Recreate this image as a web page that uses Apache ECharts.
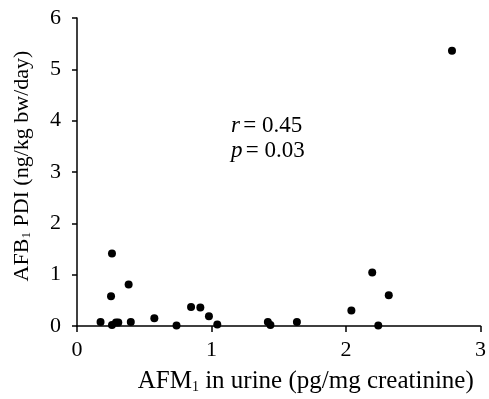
<!DOCTYPE html>
<html>
<head>
<meta charset="utf-8">
<script src="https://cdn.jsdelivr.net/npm/echarts@6/dist/echarts.min.js"></script>
<style>
  html, body { margin: 0; padding: 0; background: #fff; }
  #chart { width: 489px; height: 399px; }
</style>
</head>
<body>
<div id="chart"></div>
<script>
// AFM1 in urine (x) vs AFB1 PDI (y)
const afm1 = [0.175, 0.26, 0.253, 0.26, 0.29, 0.307, 0.384, 0.40, 0.575, 0.74, 0.848,
  0.917, 0.981, 1.043, 1.419, 1.438, 1.635, 2.04, 2.195, 2.24, 2.318, 2.788];
const afb1 = [0.08, 1.41, 0.58, 0.02, 0.07, 0.07, 0.81, 0.08, 0.15, 0.01, 0.37,
  0.36, 0.19, 0.03, 0.08, 0.02, 0.08, 0.30, 1.04, 0.01, 0.60, 5.36];
const xTicks = [0, 1, 2, 3];
const yTicks = [0, 1, 2, 3, 4, 5, 6];

const font = "Liberation Serif";
const points = afm1.map((x, i) => [x, afb1[i]]);

const chart = echarts.init(document.getElementById("chart"));
chart.setOption({
  animation: false,
  grid: { left: 77, right: 5, top: 18, bottom: 68 },
  xAxis: {
    type: "value",
    min: xTicks[0],
    max: xTicks[xTicks.length - 1],
    interval: 1,
    splitLine: { show: false },
    axisLine: { lineStyle: { color: "#000", width: 1.5 } },
    axisTick: { show: true, length: 6, lineStyle: { color: "#000", width: 1.5 } },
    axisLabel: { color: "#000", fontFamily: font, fontSize: 22, margin: 13 },
    name: "{n|AFM}{s|1}{n| in urine (pg/mg creatinine)}",
    nameLocation: "middle",
    nameGap: 43,
    nameTextStyle: {
      padding: [0, 0, 0, 54],
      rich: {
        n: { fontFamily: font, fontSize: 25, color: "#000" },
        s: { fontFamily: font, fontSize: 14, color: "#000", verticalAlign: "bottom", padding: [10, 0, 0, 0] }
      }
    }
  },
  yAxis: {
    type: "value",
    min: yTicks[0],
    max: yTicks[yTicks.length - 1],
    interval: 1,
    splitLine: { show: false },
    axisLine: { show: true, lineStyle: { color: "#000", width: 1.5 } },
    axisTick: { show: true, length: 5, lineStyle: { color: "#000", width: 1.5 } },
    axisLabel: { color: "#000", fontFamily: font, fontSize: 22, margin: 16 },
    name: "{n|AFB}{s|1}{n| PDI (ng/kg bw/day)}",
    nameLocation: "middle",
    nameGap: 44,
    nameTextStyle: {
      padding: [0, 0, 0, 12],
      rich: {
        n: { fontFamily: font, fontSize: 22, color: "#000" },
        s: { fontFamily: font, fontSize: 13, color: "#000", verticalAlign: "bottom", padding: [9, 0, 0, 0] }
      }
    }
  },
  graphic: [
    {
      type: "text",
      left: 231,
      top: 114,
      style: {
        text: "{i|r} {n|= 0.45}\n{i|p} {n|= 0.03}",
        rich: {
          i: { fontFamily: font, fontSize: 23, fontStyle: "italic", fill: "#000", lineHeight: 25 },
          n: { fontFamily: font, fontSize: 23, fill: "#000", lineHeight: 25 }
        }
      }
    }
  ],
  series: [
    {
      type: "scatter",
      data: points,
      symbolSize: 8,
      itemStyle: { color: "#000", opacity: 1 }
    }
  ]
});
</script>
</body>
</html>
